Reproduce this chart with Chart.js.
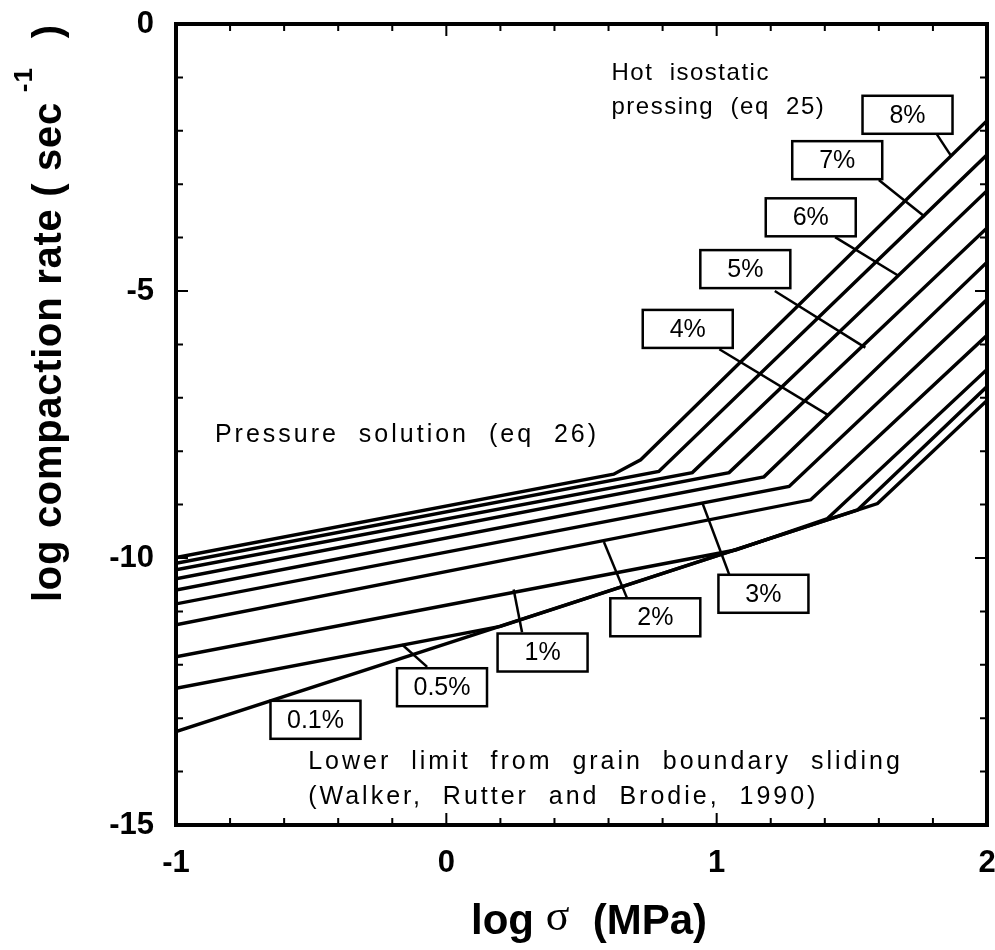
<!DOCTYPE html>
<html>
<head>
<meta charset="utf-8">
<script src="https://cdn.jsdelivr.net/npm/chart.js@4"></script>
<style>
  html, body { margin: 0; padding: 0; background: #fff; }
  #wrap { width: 995px; height: 950px; }
</style>
</head>
<body>
<div id="wrap"><canvas id="grafico" width="995" height="950"></canvas></div>
<script>
// curves: log sigma (x) vs log compaction rate (y)
const curveNames = ['8%', '7%', '6%', '5%', '4%', '3%', '2%', '1%', '0.5%', '0.1%'];
const x8 = [-1, 0.619, 0.719, 2];      const y8 = [-9.99, -8.43, -8.16, -1.81];
const x7 = [-1, 0.786, 2];             const y7 = [-10.10, -8.38, -2.45];
const x6 = [-1, 0.910, 2];             const y6 = [-10.22, -8.40, -3.12];
const x5 = [-1, 1.046, 2];             const y5 = [-10.39, -8.40, -3.82];
const x4 = [-1, 1.175, 2];             const y4 = [-10.60, -8.48, -4.46];
const x3 = [-1, 1.268, 2];             const y3 = [-10.86, -8.66, -5.16];
const x2 = [-1, 1.348, 2];             const y2 = [-11.25, -8.91, -5.83];
const x1 = [-1, 1.07, 1.410, 2];       const y1 = [-11.85, -9.85, -9.26, -6.47];
const x05 = [-1, 0.20, 1.521, 2];      const y05 = [-12.44, -11.28, -9.10, -6.79];
const x01 = [-1, 1.595, 2];            const y01 = [-13.25, -8.98, -7.05];
const curveXs = [x8, x7, x6, x5, x4, x3, x2, x1, x05, x01];
const curveYs = [y8, y7, y6, y5, y4, y3, y2, y1, y05, y01];

// label boxes (centre) and their leader lines
const boxX = [1.706, 1.446, 1.348, 1.106, 0.893, 1.173, 0.773, 0.356, -0.016, -0.484];
const boxY = [-1.70, -2.55, -3.62, -4.59, -5.71, -10.67, -11.11, -11.77, -12.42, -13.03];
const leadX0 = [1.811, 1.600, 1.438, 1.215, 1.010, 1.048, 0.670, 0.280, -0.071, null];
const leadY0 = [-2.04, -2.92, -3.99, -5.00, -6.09, -10.33, -10.77, -11.39, -12.04, null];
const leadX1 = [1.867, 1.770, 1.674, 1.550, 1.411, 0.948, 0.583, 0.249, -0.164, null];
const leadY1 = [-2.47, -3.61, -4.72, -6.06, -7.32, -8.98, -9.70, -10.59, -11.62, null];

// free text notes
const noteTexts = ['Hot  isostatic', 'pressing  (eq  25)', 'Pressure  solution  (eq  26)',
  'Lower  limit  from  grain  boundary  sliding', '(Walker,  Rutter  and  Brodie,  1990)'];
const noteX = [0.611, 0.611, -0.856, -0.511, -0.511];
const noteY = [-0.92, -1.57, -7.70, -13.82, -14.48];
const noteSpacing = [1.5, 1.5, 3, 3, 3];

const xTicks = [-1, 0, 1, 2];
const yTicks = [0, -5, -10, -15];

const SANS = "'Liberation Sans', Arial, Helvetica, sans-serif";

function noPad(s) {
  s.paddingTop = 0; s.paddingBottom = 0; s.paddingLeft = 0; s.paddingRight = 0;
}

const extras = {
  id: 'extras',
  afterDatasetsDraw(chart) {
    const ctx = chart.ctx;
    const xs = chart.scales.x, ys = chart.scales.y;
    const a = chart.chartArea;
    ctx.save();
    ctx.strokeStyle = '#000';
    ctx.lineCap = 'butt';

    // inside ticks on all four sides
    ctx.lineWidth = 2;
    for (let i = 0; i <= 15; i++) {
      const v = -1 + i * 0.2;
      const px = xs.getPixelForValue(v);
      const len = Math.abs(v - Math.round(v)) < 1e-6 ? 12 : 7;
      ctx.beginPath();
      ctx.moveTo(px, a.bottom); ctx.lineTo(px, a.bottom - len);
      ctx.moveTo(px, a.top); ctx.lineTo(px, a.top + len);
      ctx.stroke();
    }
    for (let v = 0; v >= -15; v--) {
      const py = ys.getPixelForValue(v);
      const len = v % 5 === 0 ? 12 : 7;
      ctx.beginPath();
      ctx.moveTo(a.left, py); ctx.lineTo(a.left + len, py);
      ctx.moveTo(a.right, py); ctx.lineTo(a.right - len, py);
      ctx.stroke();
    }

    // frame
    ctx.lineWidth = 4;
    ctx.strokeRect(a.left, a.top, a.right - a.left, a.bottom - a.top);

    // leaders
    ctx.lineWidth = 2.5;
    for (let i = 0; i < curveNames.length; i++) {
      if (leadX0[i] === null) continue;
      ctx.beginPath();
      ctx.moveTo(xs.getPixelForValue(leadX0[i]), ys.getPixelForValue(leadY0[i]));
      ctx.lineTo(xs.getPixelForValue(leadX1[i]), ys.getPixelForValue(leadY1[i]));
      ctx.stroke();
    }

    // boxes
    ctx.font = '25px ' + SANS;
    ctx.textAlign = 'center';
    ctx.textBaseline = 'middle';
    for (let i = 0; i < curveNames.length; i++) {
      const cx = xs.getPixelForValue(boxX[i]);
      const cy = ys.getPixelForValue(boxY[i]);
      const w = 90, h = 38;
      ctx.fillStyle = '#fff';
      ctx.fillRect(cx - w / 2, cy - h / 2, w, h);
      ctx.lineWidth = 2.5;
      ctx.strokeRect(cx - w / 2, cy - h / 2, w, h);
      ctx.fillStyle = '#000';
      ctx.fillText(curveNames[i], cx, cy + 1);
    }

    // notes
    ctx.textAlign = 'left';
    for (let i = 0; i < noteTexts.length; i++) {
      ctx.font = (i < 2 ? '24px ' : '25px ') + SANS;
      ctx.letterSpacing = noteSpacing[i] + 'px';
      ctx.fillText(noteTexts[i], xs.getPixelForValue(noteX[i]), ys.getPixelForValue(noteY[i]));
    }

    // y title with superscript
    ctx.save();
    ctx.translate(50, 602);
    ctx.rotate(-Math.PI / 2);
    ctx.textAlign = 'left';
    ctx.textBaseline = 'middle';
    ctx.font = 'bold 40px ' + SANS;
    ctx.letterSpacing = '0.7px';
    const main = 'log compaction rate ( sec';
    ctx.fillText(main, 0, 0);
    const w1 = ctx.measureText(main).width;
    ctx.letterSpacing = '1px';
    ctx.font = 'bold 26px ' + SANS;
    ctx.fillText('-1', w1 + 10, -25);
    ctx.font = 'bold 40px ' + SANS;
    ctx.fillText(')', w1 + 64, 0);
    ctx.restore();
    ctx.letterSpacing = '0px';

    // x title with sigma
    ctx.textBaseline = 'middle';
    ctx.textAlign = 'left';
    const pLog = 'log ', pSig = '\u03c3', pRest = '  (MPa)';
    ctx.font = 'bold 42px ' + SANS;
    const wl = ctx.measureText(pLog).width, wr = ctx.measureText(pRest).width;
    ctx.font = '44px "Liberation Serif", "DejaVu Serif", serif';
    const ws = ctx.measureText(pSig).width;
    const sx = 589 - (wl + ws + wr) / 2;
    const sy = 922;
    ctx.font = 'bold 42px ' + SANS;
    ctx.fillText(pLog, sx, sy);
    ctx.font = '44px "Liberation Serif", "DejaVu Serif", serif';
    ctx.fillText(pSig, sx + wl, sy - 4);
    ctx.font = 'bold 42px ' + SANS;
    ctx.fillText(pRest, sx + wl + ws, sy);

    ctx.restore();
  }
};

const datasets = curveNames.map((name, i) => ({
  label: name,
  data: curveXs[i].map((x, j) => ({ x: x, y: curveYs[i][j] })),
  borderColor: '#000',
  borderWidth: 3.4,
  pointRadius: 0,
  fill: false,
  tension: 0,
  borderJoinStyle: 'miter'
}));

const ctx = document.getElementById('grafico').getContext('2d');
new Chart(ctx, {
  type: 'line',
  data: { datasets: datasets },
  options: {
    responsive: false,
    animation: false,
    layout: { padding: { left: 0, top: 24, right: 8, bottom: 0 } },
    plugins: { legend: { display: false }, tooltip: { enabled: false }, title: { display: false } },
    scales: {
      x: {
        type: 'linear',
        min: -1, max: 2,
        afterFit: s => { s.height = 125; noPad(s); },
        afterBuildTicks: s => { s.ticks = xTicks.map(v => ({ value: v })); },
        grid: { display: false, drawTicks: false },
        border: { display: false },
        ticks: { color: '#000', padding: 20, font: { family: SANS, size: 31, weight: 'bold' } }
      },
      y: {
        type: 'linear',
        min: -15, max: 0,
        afterFit: s => { s.width = 176; noPad(s); },
        afterBuildTicks: s => { s.ticks = yTicks.map(v => ({ value: v })); },
        grid: { display: false, drawTicks: false },
        border: { display: false },
        ticks: { color: '#000', padding: 22, font: { family: SANS, size: 31, weight: 'bold' } }
      }
    }
  },
  plugins: [extras]
});
</script>
</body>
</html>
